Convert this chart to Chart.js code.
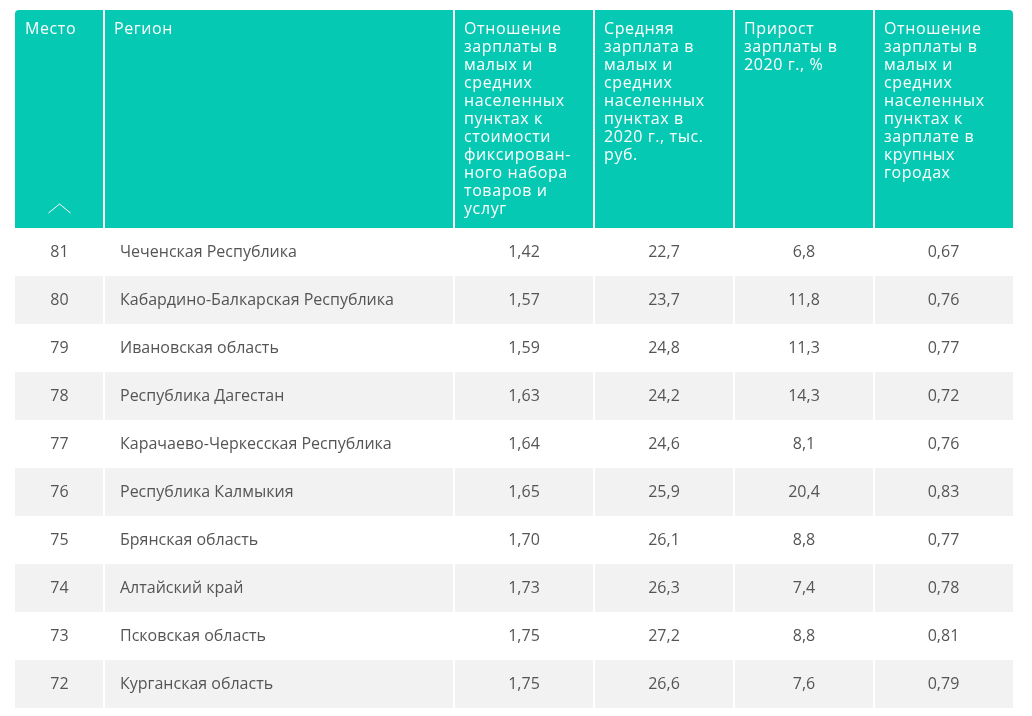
<!DOCTYPE html>
<html>
<head>
<meta charset="utf-8">
<script src="https://cdn.jsdelivr.net/npm/chart.js@4/dist/chart.umd.min.js"></script>
<style>
  html, body { margin: 0; padding: 0; background: #fff; }
  #wrap { width: 1032px; height: 716px; }
</style>
</head>
<body>
<div id="wrap"><canvas id="tableChart" width="1032" height="716"></canvas></div>
<script>
// table data
const ranks = ["81", "80", "79", "78", "77", "76", "75", "74", "73", "72"];
const regions = [
  "Чеченская Республика",
  "Кабардино-Балкарская Республика",
  "Ивановская область",
  "Республика Дагестан",
  "Карачаево-Черкесская Республика",
  "Республика Калмыкия",
  "Брянская область",
  "Алтайский край",
  "Псковская область",
  "Курганская область",
];
const costRatio = [1.42, 1.57, 1.59, 1.63, 1.64, 1.65, 1.70, 1.73, 1.75, 1.75];
const salary = [22.7, 23.7, 24.8, 24.2, 24.6, 25.9, 26.1, 26.3, 27.2, 26.6];
const growth = [6.8, 11.8, 11.3, 14.3, 8.1, 20.4, 8.8, 7.4, 8.8, 7.6];
const cityRatio = [0.67, 0.76, 0.77, 0.72, 0.76, 0.83, 0.77, 0.78, 0.81, 0.79];

const headers = [
  ["Место"],
  ["Регион"],
  ["Отношение", "зарплаты в", "малых и", "средних", "населенных", "пунктах к", "стоимости", "фиксирован-", "ного набора", "товаров и", "услуг"],
  ["Средняя", "зарплата в", "малых и", "средних", "населенных", "пунктах в", "2020 г., тыс.", "руб."],
  ["Прирост", "зарплаты в", "2020 г., %"],
  ["Отношение", "зарплаты в", "малых и", "средних", "населенных", "пунктах к", "зарплате в", "крупных", "городах"],
];

// layout (not data)
const colWidths = [89, 350, 140, 140, 140, 139];
const HEADER_TOP = 10;
const TEAL = "#06c9b3";
const ROW_GRAY = "#f2f2f2";

const fmt = (v, d) => v.toFixed(d).replace(".", ",");

const columns = [
  { get: (i) => ranks[i], align: "center" },
  { get: (i) => regions[i], align: "left" },
  { get: (i) => fmt(costRatio[i], 2), align: "center" },
  { get: (i) => fmt(salary[i], 1), align: "center" },
  { get: (i) => fmt(growth[i], 1), align: "center" },
  { get: (i) => fmt(cityRatio[i], 2), align: "center" },
];

const colEdges = [0];
colWidths.forEach((w) => colEdges.push(colEdges[colEdges.length - 1] + w));

const tablePlugin = {
  id: "tablePlugin",
  beforeDraw(chart) {
    const { ctx, chartArea, scales } = chart;
    const x = scales.x;
    const y = scales.y;
    const left = x.getPixelForValue(0);
    const right = x.getPixelForValue(colEdges[colEdges.length - 1]);
    const top = chartArea.top;

    ctx.save();
    // header background with rounded top corners
    ctx.fillStyle = TEAL;
    ctx.beginPath();
    ctx.roundRect(left, HEADER_TOP, right - left, top - HEADER_TOP, [4, 4, 0, 0]);
    ctx.fill();

    // rows
    const rowH = y.getPixelForValue(1) - y.getPixelForValue(0);
    ranks.forEach((r, i) => {
      const cy = y.getPixelForValue(i);
      if (i % 2 === 1) {
        ctx.fillStyle = ROW_GRAY;
        ctx.fillRect(left, cy - rowH / 2, right - left, rowH);
      }
    });

    // column separators
    ctx.strokeStyle = "#ffffff";
    ctx.lineWidth = 2;
    for (let c = 1; c < colEdges.length - 1; c++) {
      const px = Math.round(x.getPixelForValue(colEdges[c]));
      ctx.beginPath();
      ctx.moveTo(px, HEADER_TOP);
      ctx.lineTo(px, chartArea.bottom);
      ctx.stroke();
    }

    // header text
    ctx.fillStyle = "#ffffff";
    ctx.font = "16px 'Open Sans'";
    ctx.letterSpacing = "0.6px";
    ctx.textAlign = "left";
    ctx.textBaseline = "middle";
    headers.forEach((lines, c) => {
      const px = x.getPixelForValue(colEdges[c]) + 10;
      lines.forEach((t, k) => ctx.fillText(t, px, 29.5 + k * 18));
    });
    ctx.letterSpacing = "0px";

    // sort chevron under "Место"
    const cx = (x.getPixelForValue(colEdges[0]) + x.getPixelForValue(colEdges[1])) / 2;
    ctx.strokeStyle = "#ffffff";
    ctx.lineWidth = 1;
    ctx.beginPath();
    ctx.moveTo(cx - 11, 213);
    ctx.lineTo(cx, 204);
    ctx.lineTo(cx + 11, 213);
    ctx.stroke();

    // body text
    ctx.fillStyle = "#555555";
    ctx.font = "16px 'Open Sans'";
    ranks.forEach((r, i) => {
      const cy = y.getPixelForValue(i);
      columns.forEach((col, c) => {
        const x0 = x.getPixelForValue(colEdges[c]);
        const x1 = x.getPixelForValue(colEdges[c + 1]);
        if (col.align === "left") {
          ctx.textAlign = "left";
          ctx.fillText(col.get(i), x0 + 16, cy);
        } else {
          ctx.textAlign = "center";
          ctx.fillText(col.get(i), (x0 + x1) / 2, cy);
        }
      });
    });
    ctx.restore();
  },
};

new Chart(document.getElementById("tableChart"), {
  type: "bar",
  data: {
    labels: ranks,
    datasets: [{ data: [] }],
  },
  options: {
    responsive: false,
    animation: false,
    indexAxis: "y",
    layout: { padding: { top: 228, left: 15, right: 19, bottom: 8 } },
    plugins: { legend: { display: false }, tooltip: { enabled: false } },
    scales: {
      x: { type: "linear", min: 0, max: colEdges[colEdges.length - 1], display: false },
      y: { type: "category", offset: true, display: false },
    },
  },
  plugins: [tablePlugin],
});
</script>
</body>
</html>
